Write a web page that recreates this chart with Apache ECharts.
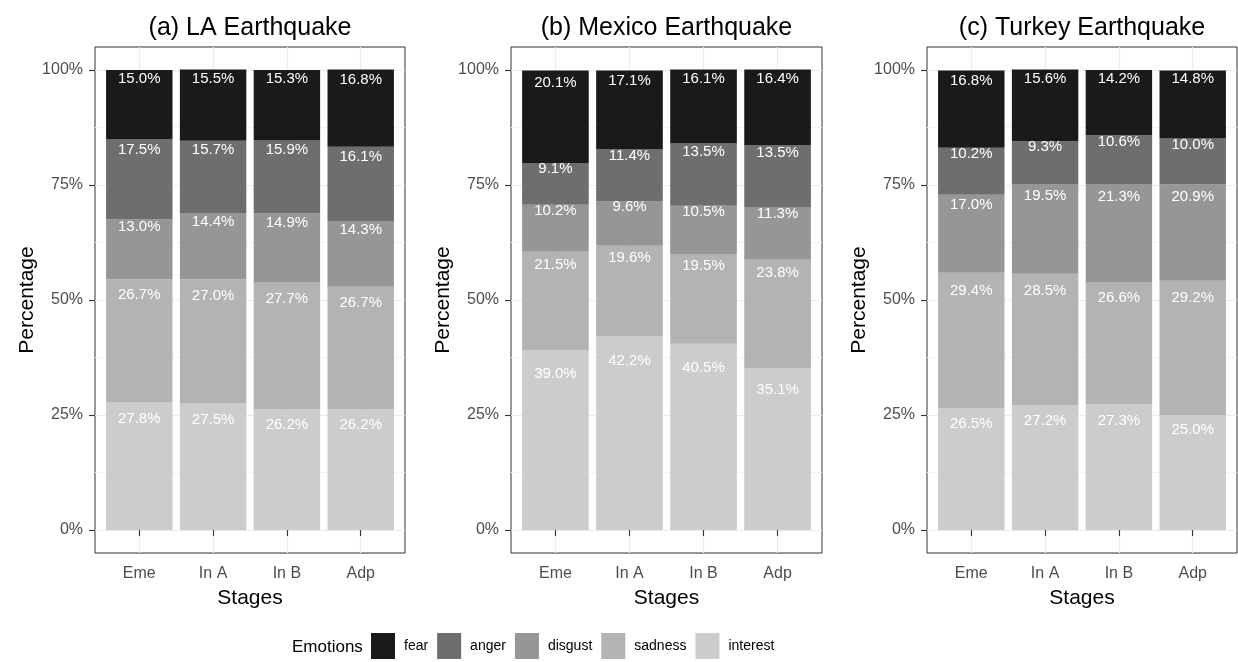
<!DOCTYPE html>
<html>
<head>
<meta charset="utf-8">
<script src="https://cdn.jsdelivr.net/npm/echarts@6/dist/echarts.min.js"></script>
<style>
  html, body { margin: 0; padding: 0; background: #ffffff; }
  #chart { width: 1238px; height: 662px; }
</style>
</head>
<body>
<div id="chart"></div>
<script>
// Stages on the x axis and emotion categories (legend order, top of stack first)
const stages = ['Eme', 'In A', 'In B', 'Adp'];
const emotions = ['fear', 'anger', 'disgust', 'sadness', 'interest'];
const panelTitles = ['(a) LA Earthquake', '(b) Mexico Earthquake', '(c) Turkey Earthquake'];
const yTicks = [0, 25, 50, 75, 100];
const yMinorTicks = [12.5, 37.5, 62.5, 87.5];

// (a) LA earthquake, share of each emotion per stage (%)
const laFear     = [15.0, 15.5, 15.3, 16.8];
const laAnger    = [17.5, 15.7, 15.9, 16.1];
const laDisgust  = [13.0, 14.4, 14.9, 14.3];
const laSadness  = [26.7, 27.0, 27.7, 26.7];
const laInterest = [27.8, 27.5, 26.2, 26.2];

// (b) Mexico earthquake
const mxFear     = [20.1, 17.1, 16.1, 16.4];
const mxAnger    = [9.1, 11.4, 13.5, 13.5];
const mxDisgust  = [10.2, 9.6, 10.5, 11.3];
const mxSadness  = [21.5, 19.6, 19.5, 23.8];
const mxInterest = [39.0, 42.2, 40.5, 35.1];

// (c) Turkey earthquake
const trFear     = [16.8, 15.6, 14.2, 14.8];
const trAnger    = [10.2, 9.3, 10.6, 10.0];
const trDisgust  = [17.0, 19.5, 21.3, 20.9];
const trSadness  = [29.4, 28.5, 26.6, 29.2];
const trInterest = [26.5, 27.2, 27.3, 25.0];

const panelValues = [
  { fear: laFear, anger: laAnger, disgust: laDisgust, sadness: laSadness, interest: laInterest },
  { fear: mxFear, anger: mxAnger, disgust: mxDisgust, sadness: mxSadness, interest: mxInterest },
  { fear: trFear, anger: trAnger, disgust: trDisgust, sadness: trSadness, interest: trInterest }
];

// ---- styling / layout ----
const FONT = 'Liberation Sans, Arial, sans-serif';
const greys = { fear: '#1a1a1a', anger: '#6e6e6e', disgust: '#969696', sadness: '#b3b3b3', interest: '#cccccc' };
const frames = [[95, 405], [511, 822], [927, 1237]];
const frameTop = 47, frameBottom = 553;
const yMin = -5, yMax = 105;                 // 5% padding above and below the data range
const xPad = 0.6;                            // discrete axis padding, in category units
const stackOrder = emotions.slice().reverse(); // interest at the bottom
const xPositions = stages.map((_, k) => k + 1);

const grid = [], xAxis = [], yAxis = [], series = [], title = [];

frames.forEach(([l, r], i) => {
  const w = r - l;
  const unit = w / (stages.length - 1 + 2 * xPad);
  const frameGrid = 2 * i, barGrid = 2 * i + 1;

  // panel frame: border, grid lines, ticks and labels
  grid.push({
    left: l, top: frameTop, width: w, height: frameBottom - frameTop,
    show: true, borderColor: '#333333', borderWidth: 1, backgroundColor: '#ffffff'
  });
  // bar area: the four category bands, inset by the discrete padding
  grid.push({
    left: l + (xPad - 0.5) * unit, top: frameTop, width: stages.length * unit, height: frameBottom - frameTop
  });

  title.push({
    text: panelTitles[i], left: (l + r) / 2, top: 16, textAlign: 'center', padding: 0,
    textStyle: { fontSize: 25, fontWeight: 'normal', color: '#000000', fontFamily: FONT }
  });

  // frame x axis (value scale in category units)
  xAxis.push({
    gridIndex: frameGrid, type: 'value', min: 1 - xPad, max: stages.length + xPad,
    axisLine: { show: false },
    axisTick: { show: true, customValues: xPositions, length: 6, lineStyle: { color: '#333333', width: 1.1 } },
    axisLabel: {
      customValues: xPositions, margin: 13, color: '#4d4d4d', fontSize: 16, fontFamily: FONT,
      formatter: v => stages[Math.round(v) - 1]
    },
    splitLine: { show: true, lineStyle: { color: '#ebebeb', width: 1.2 } },
    name: 'Stages', nameLocation: 'middle', nameGap: 35,
    nameTextStyle: { fontSize: 21, color: '#000000', fontFamily: FONT }
  });
  // bar x axis (categories, not drawn)
  xAxis.push({
    gridIndex: barGrid, type: 'category', data: stages, boundaryGap: true, show: false
  });

  // frame percentage axis
  yAxis.push({
    gridIndex: frameGrid, type: 'value', min: yMin, max: yMax, position: 'left',
    axisLine: { show: false },
    axisTick: { show: true, customValues: yTicks, length: 6, lineStyle: { color: '#333333', width: 1.1 } },
    axisLabel: {
      customValues: yTicks, margin: 12, color: '#4d4d4d', fontSize: 16, fontFamily: FONT,
      formatter: v => v + '%'
    },
    splitLine: { show: true, lineStyle: { color: '#ebebeb', width: 1.2 } },
    name: 'Percentage', nameLocation: 'middle', nameRotate: 90, nameGap: 56,
    nameTextStyle: { fontSize: 21, color: '#000000', fontFamily: FONT }
  });
  // minor grid lines half-way between the major ticks
  yAxis.push({
    gridIndex: frameGrid, type: 'value', min: yMin, max: yMax, position: 'right',
    axisLine: { show: false },
    axisTick: { show: false, customValues: yMinorTicks },
    axisLabel: { show: false, customValues: yMinorTicks },
    splitLine: { show: true, lineStyle: { color: '#f3f3f3', width: 1 } }
  });
  // bar value axis (same scale, not drawn)
  yAxis.push({
    gridIndex: barGrid, type: 'value', min: yMin, max: yMax, show: false
  });

  stackOrder.forEach(name => {
    series.push({
      type: 'bar', name, xAxisIndex: 2 * i + 1, yAxisIndex: 3 * i + 2, stack: 'panel' + i,
      barWidth: '90%',
      data: panelValues[i][name],
      itemStyle: { color: greys[name] },
      label: {
        show: true, position: ['50%', '13%'], align: 'center', verticalAlign: 'middle',
        color: '#ffffff', fontSize: 15, fontFamily: FONT,
        formatter: p => p.value.toFixed(1) + '%'
      },
      emphasis: { disabled: true },
      silent: true
    });
  });
});

const chart = echarts.init(document.getElementById('chart'), null, { renderer: 'canvas' });
chart.setOption({
  backgroundColor: '#ffffff',
  animation: false,
  textStyle: { fontFamily: FONT },
  title,
  grid, xAxis, yAxis, series,
  legend: {
    data: emotions, left: 371, top: 633, orient: 'horizontal', padding: 0,
    icon: 'rect', itemWidth: 24, itemHeight: 26, itemGap: 9, selectedMode: false,
    textStyle: { fontSize: 14, color: '#000000', fontFamily: FONT, padding: [2, 0, 0, 4] }
  },
  graphic: [{
    type: 'text', x: 292, y: 647,
    style: { text: 'Emotions', fontSize: 17, fill: '#000000', fontFamily: FONT, verticalAlign: 'middle' }
  }]
});
</script>
</body>
</html>
